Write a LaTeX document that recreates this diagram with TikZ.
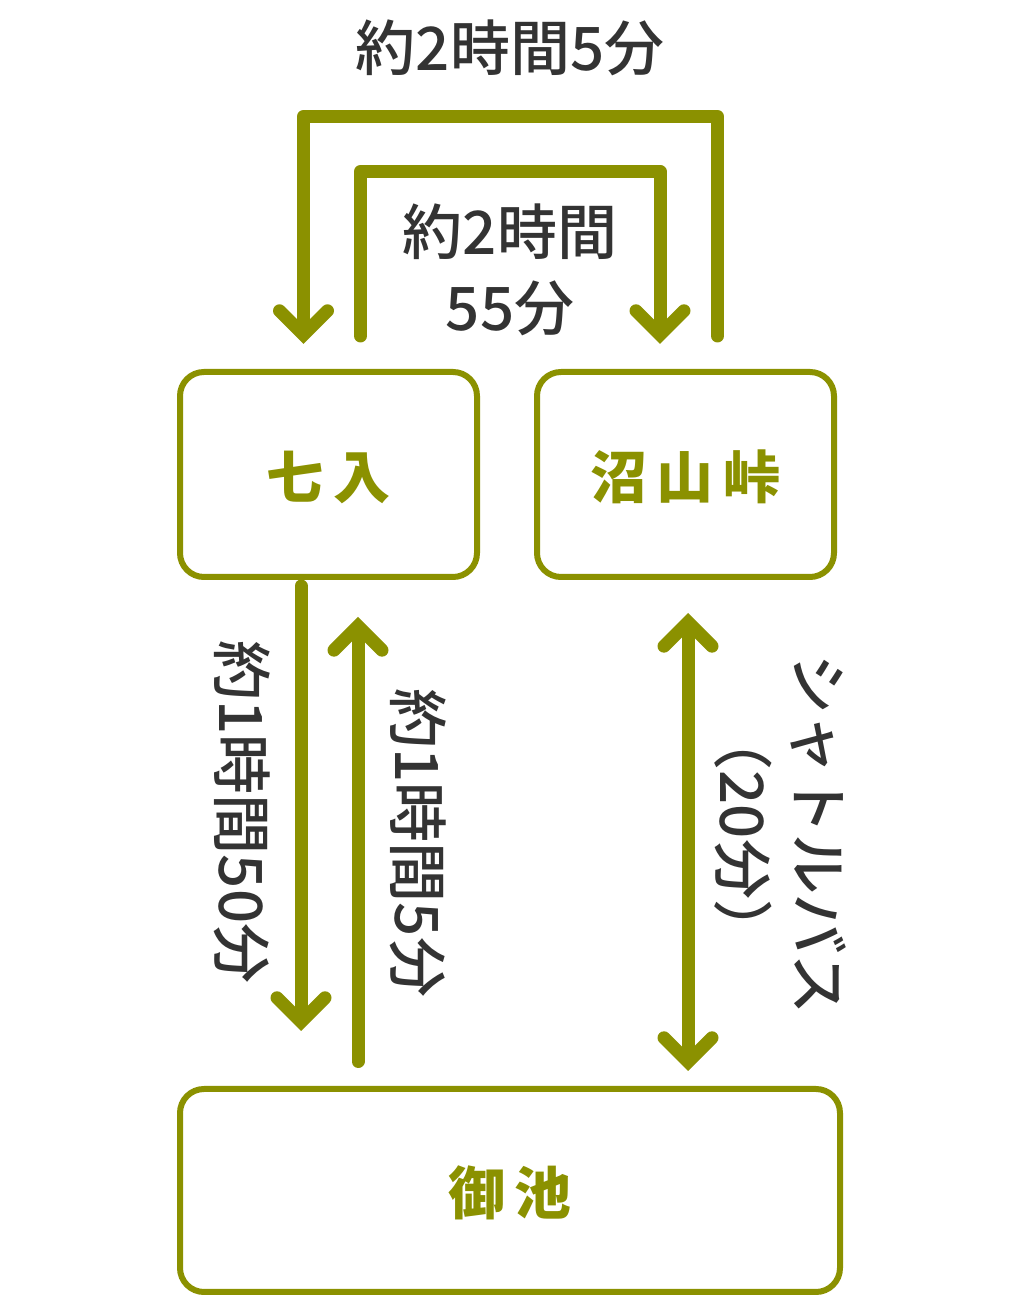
\documentclass[tikz,border=0pt]{standalone}
\usepackage{fontspec}
\setmainfont{Noto Sans CJK JP}
\newfontfamily\medfont{Noto Sans CJK JP Medium}
\usetikzlibrary{positioning,arrows.meta}
\definecolor{moss}{RGB}{139,145,0}
\definecolor{ink}{RGB}{51,51,51}

\begin{document}
\begin{tikzpicture}[x=1pt,y=1pt,
	main/.style = {draw=moss, line width=6pt, outer sep=0pt, rounded corners=24pt, minimum width=297pt, minimum height=205pt, text depth=0pt, text=moss, font=\fontsize{57}{68}\selectfont\bfseries},
	route/.style = {draw=moss, line width=13pt, line cap=round, line join=round},
	lbl/.style = {text=ink, inner sep=0pt, align=center, font=\fontsize{60}{76}\medfont},
	>={Straight Barb[line cap=round, line join=miter, length=24pt, width=48pt]}]
			\useasboundingbox (0,0) rectangle (1014,1296);
			
			\node[main] (1) at (328.5,821.5) {七\hspace{10pt}入};
			\node[main] (2) [right=60pt of 1] {沼\hspace{10pt}山\hspace{10pt}峠};
			\node[main] (3) [minimum width=660pt, minimum height=203pt] at (510,105.5) {御\hspace{10pt}池};
			
			\node[lbl] (4) at (510,1248) {約2時間5分};
			\node[lbl] (5) at (510,1026) {約2時間\\55分};
			\node[lbl] (6) [rotate=-90] at (242,484) {約1時間50分};
			\node[lbl] (7) [rotate=-90] at (418,453) {約1時間5分};
			\node[lbl] (8) [rotate=-90] at (780,461) {シャトルバス\\（20分）};
			
			\draw[route,->] ([xshift=32pt,yshift=36pt]2.north) -- ++(0,219.5) -| ([xshift=-25pt,yshift=28pt]1.north);
			\draw[route,->] ([xshift=32pt,yshift=36pt]1.north) -- ++(0,164.5) -| ([xshift=-25.5pt,yshift=28pt]2.north);
			\draw[route,->] ([xshift=-27.5pt,yshift=-9pt]1.south) -- ([xshift=-209pt,yshift=58pt]3.north);
			\draw[route,->] ([xshift=-152pt,yshift=27.5pt]3.north) -- ([xshift=29.5pt,yshift=-40pt]1.south);
			\draw[route,<->] ([xshift=2.5pt,yshift=-36pt]2.south) -- ([xshift=178pt,yshift=18pt]3.north);
			
\end{tikzpicture}
\end{document}
